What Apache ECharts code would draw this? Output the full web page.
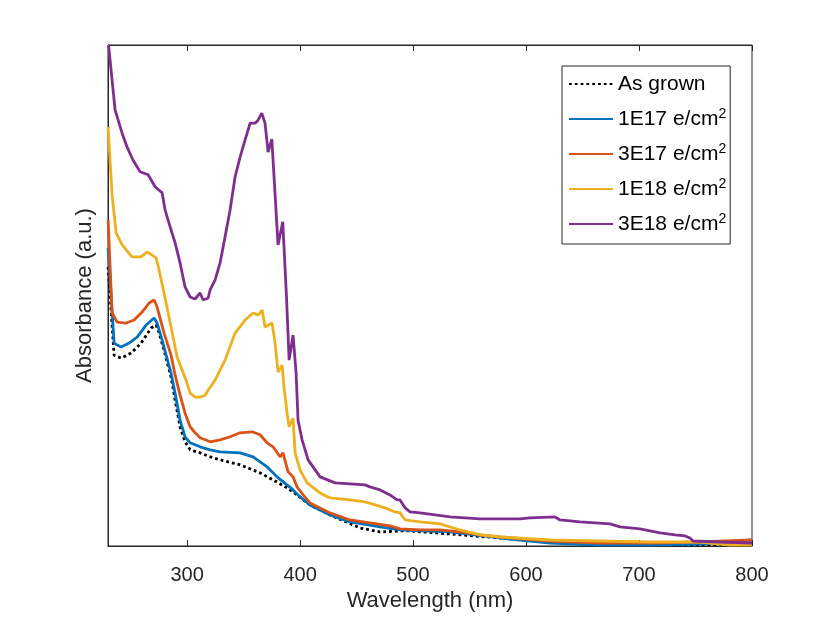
<!DOCTYPE html>
<html>
<head>
<meta charset="utf-8">
<script src="https://cdn.jsdelivr.net/npm/echarts@6/dist/echarts.min.js"></script>
<style>
  html, body { margin: 0; padding: 0; background: #fff; }
  #chart { width: 830px; height: 623px; }
</style>
</head>
<body>
<div id="chart"></div>
<script>
// tick labels on the wavelength axis
var xTicks = [300, 400, 500, 600, 700, 800];

var seriesNames = ['As grown', '1E17 e/cm', '3E17 e/cm', '1E18 e/cm', '3E18 e/cm'];

// As grown
var asGrownNm  = [230.1, 235.4, 241.6, 250.4, 259.3, 268.1, 272.6, 275.2, 279.6, 285.8, 289.4, 293.8, 298.2, 302.7, 311.5, 320.4, 329.2, 346.9, 364.6, 376.1, 388.5, 397.3, 408.8, 426.5, 453.1, 470.8, 488.5, 497.3, 532.7, 577.0, 621.2, 665.5, 754.0, 800];
var asGrownAbs = [0.557, 0.381, 0.375, 0.385, 0.405, 0.435, 0.441, 0.425, 0.391, 0.337, 0.291, 0.238, 0.208, 0.192, 0.186, 0.178, 0.172, 0.162, 0.146, 0.132, 0.116, 0.102, 0.082, 0.062, 0.036, 0.028, 0.030, 0.030, 0.024, 0.016, 0.008, 0.004, 0.002, 0.004];

// 1E17 e/cm2
var e1e17Nm  = [230.1, 235.4, 241.6, 248.7, 255.8, 263.7, 270.8, 273.5, 277.9, 285.8, 289.4, 293.8, 298.2, 302.7, 311.5, 320.4, 329.2, 346.9, 358.4, 370.8, 379.6, 388.5, 393.8, 400.0, 408.8, 426.5, 444.2, 470.8, 488.5, 506.2, 532.7, 577.0, 621.2, 665.5, 709.7, 754.0, 800];
var e1e17Abs = [0.595, 0.405, 0.397, 0.405, 0.417, 0.441, 0.455, 0.445, 0.411, 0.345, 0.305, 0.251, 0.218, 0.206, 0.198, 0.192, 0.188, 0.186, 0.178, 0.158, 0.138, 0.122, 0.112, 0.098, 0.082, 0.062, 0.048, 0.038, 0.032, 0.030, 0.028, 0.016, 0.006, 0.002, 0.002, 0.004, 0.012];

// 3E17 e/cm2
var e3e17Nm  = [230.1, 233.6, 238.1, 246.0, 253.1, 260.2, 266.4, 270.8, 273.5, 279.6, 285.8, 289.4, 293.8, 298.2, 302.7, 307.1, 311.5, 320.4, 329.2, 338.1, 346.9, 357.5, 364.6, 370.8, 376.1, 382.3, 384.9, 389.4, 393.8, 397.3, 402.7, 408.8, 426.5, 444.2, 461.9, 479.6, 488.5, 506.2, 523.9, 541.6, 559.3, 577.0, 621.2, 665.5, 709.7, 754.0, 800];
var e3e17Abs = [0.651, 0.465, 0.447, 0.445, 0.451, 0.467, 0.485, 0.491, 0.477, 0.425, 0.381, 0.341, 0.301, 0.265, 0.238, 0.226, 0.216, 0.208, 0.212, 0.218, 0.226, 0.228, 0.222, 0.206, 0.198, 0.178, 0.186, 0.148, 0.138, 0.118, 0.102, 0.086, 0.066, 0.052, 0.046, 0.040, 0.034, 0.032, 0.032, 0.028, 0.022, 0.018, 0.010, 0.006, 0.006, 0.008, 0.012];

// 1E18 e/cm2
var e1e18Nm  = [230.1, 233.6, 237.2, 242.5, 251.3, 259.3, 264.6, 272.6, 275.2, 279.6, 285.8, 291.2, 299.1, 302.7, 307.1, 311.5, 315.9, 318.6, 324.8, 333.6, 342.5, 351.3, 358.4, 362.8, 366.4, 369.0, 375.2, 377.9, 380.5, 384.1, 385.8, 388.5, 390.3, 393.8, 395.6, 400.0, 406.2, 417.7, 426.5, 444.2, 457.5, 475.2, 484.1, 488.5, 493.0, 506.2, 523.9, 541.6, 559.3, 577.0, 621.2, 665.5, 709.7, 754.0, 780.5, 800];
var e1e18Abs = [0.836, 0.701, 0.625, 0.601, 0.577, 0.577, 0.587, 0.575, 0.551, 0.505, 0.437, 0.377, 0.331, 0.305, 0.297, 0.297, 0.301, 0.311, 0.331, 0.371, 0.425, 0.451, 0.465, 0.461, 0.471, 0.437, 0.445, 0.405, 0.347, 0.361, 0.317, 0.265, 0.238, 0.255, 0.186, 0.152, 0.126, 0.106, 0.096, 0.092, 0.088, 0.076, 0.068, 0.066, 0.052, 0.048, 0.044, 0.032, 0.022, 0.018, 0.012, 0.010, 0.008, 0.008, 0.002, 0.002];

// 3E18 e/cm2
var e3e18Nm  = [230.5, 236.3, 242.5, 246.9, 252.2, 258.4, 265.5, 271.7, 277.9, 280.5, 285.0, 289.4, 293.8, 298.2, 302.7, 307.1, 311.5, 314.2, 318.6, 320.4, 324.8, 329.2, 333.6, 338.1, 342.5, 346.9, 351.3, 355.8, 360.2, 362.8, 366.1, 369.0, 371.7, 375.0, 380.5, 384.7, 388.1, 390.3, 393.8, 396.5, 398.2, 401.8, 407.1, 417.7, 431.0, 444.2, 457.5, 461.9, 470.8, 479.6, 485.8, 488.5, 493.0, 497.3, 506.2, 532.7, 559.3, 594.7, 603.5, 625.7, 630.1, 647.8, 674.3, 683.2, 700.9, 718.6, 731.9, 740.7, 745.1, 747.8, 771.7, 800];
var e3e18Abs = [1.000, 0.870, 0.824, 0.796, 0.770, 0.747, 0.741, 0.717, 0.705, 0.671, 0.637, 0.605, 0.565, 0.517, 0.497, 0.493, 0.505, 0.491, 0.495, 0.511, 0.531, 0.565, 0.617, 0.671, 0.737, 0.776, 0.810, 0.844, 0.844, 0.850, 0.864, 0.844, 0.786, 0.812, 0.601, 0.647, 0.491, 0.371, 0.421, 0.345, 0.251, 0.212, 0.172, 0.138, 0.126, 0.124, 0.122, 0.118, 0.112, 0.102, 0.092, 0.092, 0.076, 0.068, 0.066, 0.058, 0.054, 0.054, 0.056, 0.058, 0.052, 0.048, 0.044, 0.038, 0.034, 0.026, 0.022, 0.020, 0.016, 0.010, 0.008, 0.006];

function pairs(xs, ys) {
    var out = [];
    for (var i = 0; i < xs.length; i++) out.push([xs[i], ys[i]]);
    return out;
}

var colors = ['#000000', '#0072BD', '#D95319', '#EDB120', '#7E2F8E'];
var allNm = [asGrownNm, e1e17Nm, e3e17Nm, e1e18Nm, e3e18Nm];
var allAbs = [asGrownAbs, e1e17Abs, e3e17Abs, e1e18Abs, e3e18Abs];

var txt = '#262626';
var font = 'Liberation Sans, Arial, Helvetica, sans-serif';

var series = [];
for (var k = 0; k < seriesNames.length; k++) {
    series.push({
        name: seriesNames[k],
        type: 'line',
        symbol: 'none',
        smooth: false,
        clip: true,
        data: pairs(allNm[k], allAbs[k]),
        lineStyle: {
            color: colors[k],
            width: 2.8,
            type: k === 0 ? [2.8, 3] : 'solid'
        },
        itemStyle: { color: colors[k] }
    });
}

var chart = echarts.init(document.getElementById('chart'));
var option = {
    animation: false,
    backgroundColor: '#ffffff',
    textStyle: { fontFamily: font },
    grid: {
        left: 108, right: 78, top: 45, bottom: 77,
        show: true, borderColor: txt, borderWidth: 1
    },
    legend: {
        orient: 'vertical',
        left: 562,
        top: 66,
        padding: [6, 4, 8, 6],
        itemWidth: 44,
        itemHeight: 14,
        itemGap: 11,
        borderColor: txt,
        borderWidth: 1,
        backgroundColor: '#ffffff',
        data: seriesNames,
        itemStyle: { color: 'rgba(0,0,0,0)', borderWidth: 0 },
        formatter: function (name) {
            return name === 'As grown' ? name : name + '{sup|2}';
        },
        textStyle: {
            fontFamily: font,
            fontSize: 21,
            color: '#000',
            lineHeight: 24,
            rich: {
                sup: { fontFamily: font, fontSize: 14, lineHeight: 14, verticalAlign: 'top', color: '#000' }
            }
        }
    },
    xAxis: [
        {
            type: 'value',
            min: 230,
            max: 800,
            name: 'Wavelength (nm)',
            nameLocation: 'middle',
            nameGap: 35,
            nameTextStyle: { fontFamily: font, fontSize: 22, color: txt },
            axisLine: { lineStyle: { color: txt, width: 1 } },
            axisTick: { inside: true, length: 6, customValues: xTicks, lineStyle: { color: txt } },
            axisLabel: { customValues: xTicks, margin: 19, fontFamily: font, fontSize: 20, color: txt },
            splitLine: { show: false }
        },
        {
            type: 'value',
            position: 'top',
            min: 230,
            max: 800,
            axisLine: { lineStyle: { color: txt, width: 1 } },
            axisTick: { inside: true, length: 6, customValues: xTicks, lineStyle: { color: txt } },
            axisLabel: { show: false },
            splitLine: { show: false }
        }
    ],
    yAxis: {
        type: 'value',
        min: 0,
        max: 1,
        name: 'Absorbance (a.u.)',
        nameLocation: 'middle',
        nameGap: 12,
        nameTextStyle: { fontFamily: font, fontSize: 22, color: txt },
        axisLine: { show: true, lineStyle: { color: txt, width: 1 } },
        axisTick: { show: false },
        axisLabel: { show: false },
        splitLine: { show: false }
    },
    series: series
};
chart.setOption(option);
</script>
</body>
</html>
